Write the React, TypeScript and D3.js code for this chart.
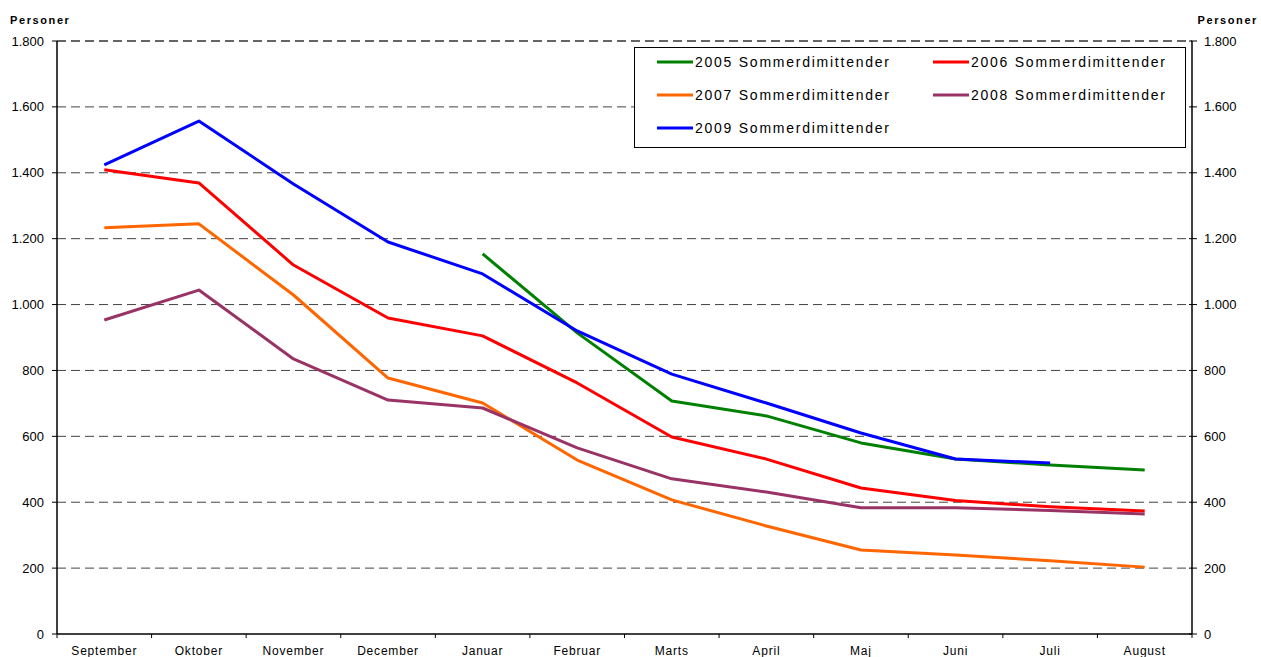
import React from "react";
import * as d3 from "d3";

const months = ["September", "Oktober", "November", "December", "Januar", "Februar", "Marts", "April", "Maj", "Juni", "Juli", "August"];
const yTicks = [0, 200, 400, 600, 800, 1000, 1200, 1400, 1600, 1800];

const s2005: (number | null)[] = [null, null, null, null, 1154, 914, 707, 662, 580, 531, 513, 498];
const s2006: (number | null)[] = [1409, 1369, 1120, 959, 905, 762, 598, 531, 443, 405, 386, 373];
const s2007: (number | null)[] = [1233, 1245, 1029, 777, 701, 528, 407, 328, 255, 240, 222, 203];
const s2008: (number | null)[] = [953, 1044, 835, 710, 686, 565, 471, 431, 383, 383, 375, 364];
const s2009: (number | null)[] = [1424, 1557, 1366, 1190, 1093, 920, 789, 701, 610, 531, 519, null];

const seriesNames = ["2005 Sommerdimittender", "2006 Sommerdimittender", "2007 Sommerdimittender", "2008 Sommerdimittender", "2009 Sommerdimittender"];
const seriesColors = ["#008000", "#ff0000", "#ff6600", "#993366", "#0000ff"];
const seriesData = [s2005, s2006, s2007, s2008, s2009];

const W = 1261, H = 657;
const L = 57, R = 1192, T = 41, B = 634;

const fmt = (v: number) => d3.format(",")(v).replace(/,/g, ".");

export default function App() {
  const x = d3.scaleBand<string>().domain(months).range([L, R]).padding(0);
  const y = d3.scaleLinear().domain([0, 1800]).range([B, T]);
  const cx = (m: string) => (x(m) as number) + x.bandwidth() / 2;
  const line = d3
    .line<number | null>()
    .defined((d) => d !== null)
    .x((_, i) => cx(months[i]))
    .y((d) => y(d as number));

  const font = "Liberation Sans, Arial, sans-serif";
  const legendItems = seriesNames.map((n, i) => ({
    name: n,
    color: seriesColors[i],
    col: i % 2,
    row: Math.floor(i / 2),
  }));

  return (
    <svg width={W} height={H} style={{ position: "absolute", left: 0, top: 0, background: "#fff" }} fontFamily={font}>
      {/* gridlines */}
      {yTicks.filter((t) => t > 0).map((t) => (
        <line key={"g" + t} x1={L} x2={R} y1={y(t)} y2={y(t)} stroke={t === 1800 ? "#333" : "#444"} strokeWidth={t === 1800 ? 1.5 : 1} strokeDasharray="9,5" />
      ))}
      {/* axes */}
      <line x1={L} x2={L} y1={T} y2={B} stroke="#000" strokeWidth={1.5} />
      <line x1={R} x2={R} y1={T} y2={B} stroke="#000" strokeWidth={1.5} />
      <line x1={L} x2={R} y1={B} y2={B} stroke="#000" strokeWidth={1.5} />
      {yTicks.map((t) => (
        <g key={"yt" + t}>
          <line x1={L - 5} x2={L} y1={y(t)} y2={y(t)} stroke="#000" strokeWidth={1} />
          <line x1={R - 3} x2={R + 5} y1={y(t)} y2={y(t)} stroke="#000" strokeWidth={1} />
          <text x={44} y={y(t)} dy="0.35em" textAnchor="end" fontSize={13} fill="#000">{fmt(t)}</text>
          <text x={1204} y={y(t)} dy="0.35em" textAnchor="start" fontSize={13} fill="#000">{fmt(t)}</text>
        </g>
      ))}
      {months.map((m, i) => (
        <g key={"xt" + m}>
          <line x1={x(m) as number} x2={x(m) as number} y1={B} y2={B + 4} stroke="#000" strokeWidth={1} />
          {i === months.length - 1 && <line x1={R} x2={R} y1={B} y2={B + 4} stroke="#000" strokeWidth={1} />}
          <text x={cx(m)} y={655} textAnchor="middle" fontSize={12} letterSpacing={0.8} fill="#000">{m}</text>
        </g>
      ))}
      <text x={10} y={24} fontSize={11} fontWeight="bold" letterSpacing={1.6} fill="#000">Personer</text>
      <text x={1258} y={24} fontSize={11} fontWeight="bold" letterSpacing={1.6} fill="#000" textAnchor="end">Personer</text>

      {/* series */}
      {seriesData.map((s, i) => (
        <path key={"s" + i} d={line(s) || ""} fill="none" stroke={seriesColors[i]} strokeWidth={3} strokeLinejoin="round" />
      ))}

      {/* legend */}
      <rect x={634.5} y={47.5} width={551} height={100} fill="#fff" stroke="#000" strokeWidth={1} />
      {legendItems.map((it) => {
        const lx = 657 + it.col * 276;
        const ly = 62 + it.row * 33;
        return (
          <g key={it.name}>
            <line x1={lx} x2={lx + 36} y1={ly} y2={ly} stroke={it.color} strokeWidth={3} />
            <text x={lx + 38} y={ly} dy="0.35em" fontSize={14} letterSpacing={1.75} fill="#000">{it.name}</text>
          </g>
        );
      })}
    </svg>
  );
}
